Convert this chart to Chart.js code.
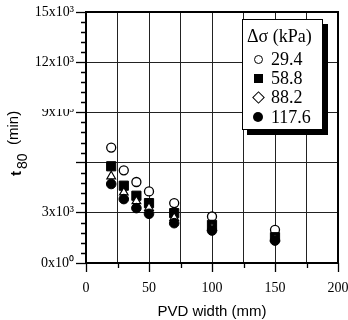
<!DOCTYPE html>
<html>
<head>
<meta charset="utf-8">
<script src="https://cdn.jsdelivr.net/npm/chart.js@4"></script>
<style>
body { margin: 0; background: #fff; }
#wrap { position: relative; width: 348px; height: 320px; }
#legend {
	position: absolute; left: 242px; top: 19px; width: 79px; height: 109px;
	border: 1.5px solid #000; background: #fff; box-shadow: 5px 5px 0 #000;
	font-family: "Liberation Serif", "Times New Roman", serif; font-size: 18px; color: #000;
}
#legend .row { position: absolute; left: 28px; white-space: nowrap; line-height: 18px; }
#legend .sym { position: absolute; box-sizing: border-box; }
</style>
</head>
<body>
<div id="wrap">
<canvas id="c" width="348" height="320"></canvas>
<div id="legend"></div>
</div>
<script>
// PVD width (mm)
let widths = [20, 30, 40, 50, 70, 100, 150];
// t80 (min) for each load increment
let t294 = [6900, 5540, 4840, 4280, 3580, 2780, 1980];
let t588 = [5780, 4620, 4020, 3580, 2980, 2280, 1540];
let t882 = [5180, 4220, 3700, 3300, 2700, 2100, 1450];
let t1176 = [4720, 3820, 3280, 2940, 2380, 1940, 1340];
let legendTitle = "Δσ (kPa)";
let legendLabels = ["29.4", "58.8", "88.2", "117.6"];
let yTickLabels = {0: "0x10⁰", 3000: "3x10³", 6000: "", 9000: "9x10³", 12000: "12x10³", 15000: "15x10³"};

function pts(ys) {
	return widths.map((x, i) => ({x: x, y: ys[i]}));
}

// legend box
let leg = document.getElementById("legend");
let t = document.createElement("div");
t.className = "row";
t.style.top = "7px";
t.style.left = "4px";
t.innerHTML = legendTitle;
leg.appendChild(t);
let rowMid = [39, 58, 77, 97];
let symCss = [
	"width:9px;height:9px;border:1.3px solid #000;border-radius:50%;background:#fff;",
	"width:9px;height:9px;background:#000;",
	"width:9px;height:9px;border:1.3px solid #000;background:#fff;transform:rotate(45deg);",
	"width:10px;height:10px;background:#000;border-radius:50%;"
];
for (let i = 0; i < legendLabels.length; i++) {
	let d = document.createElement("div");
	d.className = "row";
	d.style.top = (rowMid[i] - 9) + "px";
	d.innerHTML = legendLabels[i];
	leg.appendChild(d);
	let s = document.createElement("div");
	s.className = "sym";
	s.style.cssText = symCss[i];
	let w = (i === 3) ? 10 : 9;
	s.style.left = (15 - w / 2) + "px";
	s.style.top = (rowMid[i] - w / 2) + "px";
	leg.appendChild(s);
}

let serif = "'Liberation Serif', 'Times New Roman', serif";
let sans = "'Liberation Sans', Arial, sans-serif";

let frame = {
	id: "frame",
	afterDraw(chart) {
		let ctx = chart.ctx, a = chart.chartArea;
		let xs = chart.scales.x, ys = chart.scales.y;
		ctx.save();
		ctx.strokeStyle = "#000";
		ctx.lineWidth = 1.3;
		// short minor ticks
		ctx.beginPath();
		for (let v = 25; v < 200; v += 50) {
			let px = Math.round(xs.getPixelForValue(v)) + 0.5;
			ctx.moveTo(px, a.bottom);
			ctx.lineTo(px, a.bottom + 5);
		}
		for (let v = 600; v < 15000; v += 600) {
			if (v % 3000 === 0) continue;
			let py = Math.round(ys.getPixelForValue(v)) + 0.5;
			ctx.moveTo(a.left - 5, py);
			ctx.lineTo(a.left, py);
		}
		ctx.stroke();
		ctx.lineWidth = 2;
		ctx.strokeRect(a.left, a.top, a.right - a.left, a.bottom - a.top);
		// x title
		ctx.fillStyle = "#000";
		ctx.font = "15px " + sans;
		ctx.textAlign = "center";
		ctx.textBaseline = "middle";
		ctx.fillText("PVD width (mm)", (a.left + a.right) / 2, 312);
		// y title (covers part of tick labels, as in the original)
		ctx.fillStyle = "#fff";
		ctx.fillRect(0, 95, 80, 14);
		ctx.translate(21, 140);
		ctx.rotate(-Math.PI / 2);
		ctx.fillStyle = "#000";
		ctx.textBaseline = "alphabetic";
		ctx.textAlign = "left";
		ctx.font = "bold 15px " + sans;
		ctx.fillText("t", -36, 0);
		ctx.font = "14px " + sans;
		ctx.fillText("80", -29, 6);
		ctx.font = "15px " + sans;
		ctx.fillText("(min)", -5, -3);
		ctx.restore();
	}
};

let ctx = document.getElementById("c").getContext("2d");
let chart = new Chart(ctx, {
	type: "scatter",
	data: {
		datasets: [
			{label: "29.4", data: pts(t294), pointStyle: "circle", radius: 4.5, borderWidth: 1.3, borderColor: "#000", backgroundColor: "#fff", order: 3},
			{label: "58.8", data: pts(t588), pointStyle: "rect", radius: 6.5, borderWidth: 1, borderColor: "#000", backgroundColor: "#000", order: 2},
			{label: "88.2", data: pts(t882), pointStyle: "triangle", radius: 5, borderWidth: 1.2, borderColor: "#000", backgroundColor: "#fff", order: 1},
			{label: "117.6", data: pts(t1176), pointStyle: "circle", radius: 4.8, borderWidth: 1, borderColor: "#000", backgroundColor: "#000", order: 0}
		]
	},
	options: {
		responsive: false,
		animation: false,
		layout: {padding: {top: 12, right: 10, left: 0, bottom: 0}},
		plugins: {legend: {display: false}, tooltip: {enabled: false}},
		scales: {
			x: {
				min: 0, max: 200,
				border: {display: false},
				grid: {
					color: "#222", lineWidth: 1, tickLength: 9, tickWidth: 1.3,
					tickColor: (c) => c.tick && c.tick.value % 50 === 0 ? "#000" : "rgba(0,0,0,0)"
				},
				ticks: {
					stepSize: 25, autoSkip: false, maxRotation: 0, padding: 8, color: "#000",
					font: {family: serif, size: 14},
					callback: (v) => v % 50 === 0 ? String(v) : ""
				},
				afterFit(s) { s.height = 57; s.paddingLeft = 0; s.paddingRight = 0; }
			},
			y: {
				min: 0, max: 15000,
				border: {display: false},
				grid: {
					color: (c) => c.tick && c.tick.value % 3000 === 0 ? "#222" : "rgba(0,0,0,0)",
					tickColor: (c) => c.tick && c.tick.value % 3000 === 0 ? "#000" : "rgba(0,0,0,0)",
					lineWidth: 1, tickLength: 10, tickWidth: 1.3
				},
				ticks: {
					stepSize: 600, autoSkip: false, padding: 2, color: "#000",
					font: {family: serif, size: 14},
					callback: (v) => (v in yTickLabels) ? yTickLabels[v] : ""
				},
				afterFit(s) { s.width = 86; s.paddingTop = 0; s.paddingBottom = 0; }
			}
		}
	},
	plugins: [frame]
});
</script>
</body>
</html>
